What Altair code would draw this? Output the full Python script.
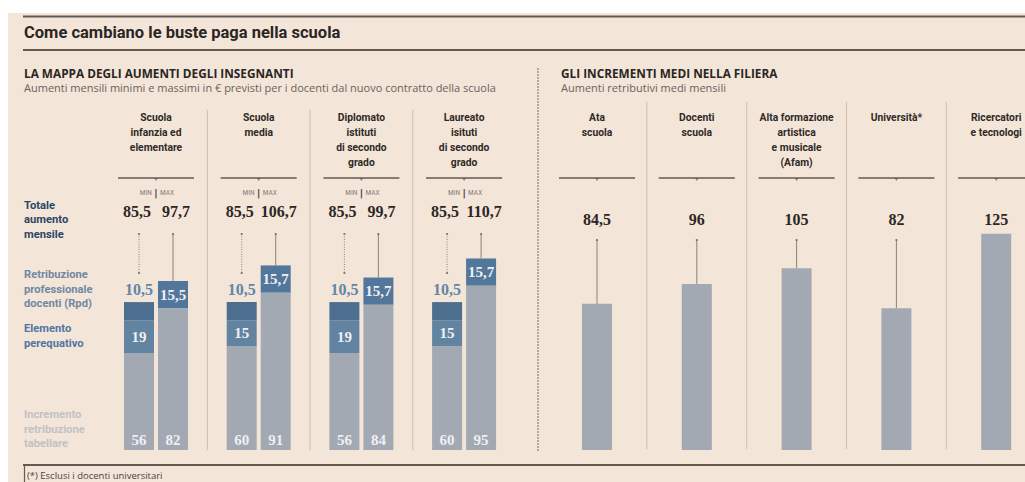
import altair as alt
import pandas as pd

# ---------------- data ----------------
TITLE = "Come cambiano le buste paga nella scuola"
LEFT_HEADING = "LA MAPPA DEGLI AUMENTI DEGLI INSEGNANTI"
LEFT_SUB = "Aumenti mensili minimi e massimi in € previsti per i docenti dal nuovo contratto della scuola"
RIGHT_HEADING = "GLI INCREMENTI MEDI NELLA FILIERA"
RIGHT_SUB = "Aumenti retributivi medi mensili"
FOOTNOTE = "(*) Esclusi i docenti universitari"

LEFT_GROUPS = [["Scuola", "infanzia ed", "elementare"],
               ["Scuola", "media"],
               ["Diplomato", "istituti", "di secondo", "grado"],
               ["Laureato", "isituti", "di secondo", "grado"]]
MIN_TAB = [56, 60, 56, 60]
MIN_PEREQ = [19, 15, 19, 15]
MIN_RPD = [10.5, 10.5, 10.5, 10.5]
MIN_TOT = [85.5, 85.5, 85.5, 85.5]
MAX_TAB = [82, 91, 84, 95]
MAX_RPD = [15.5, 15.7, 15.7, 15.7]
MAX_TOT = [97.7, 106.7, 99.7, 110.7]

RIGHT_GROUPS = [["Ata", "scuola"],
                ["Docenti", "scuola"],
                ["Alta formazione", "artistica", "e musicale", "(Afam)"],
                ["Università*"],
                ["Ricercatori", "e tecnologi"]]
RIGHT_VALS = [84.5, 96, 105, 82, 125]

ROW_TOTAL = ["Totale", "aumento", "mensile"]
ROW_RPD = ["Retribuzione", "professionale", "docenti (Rpd)"]
ROW_PEREQ = ["Elemento", "perequativo"]
ROW_TAB = ["Incremento", "retribuzione", "tabellare"]

# ---------------- layout / style ----------------
W, H = 1025, 482
BASE, PPU = 450, 1.73
LX0, LSTEP = 156, 102.7
RX0, RSTEP = 597, 99.8
BG = "#f3e5d8"
RULE = "#625a53"
SEP = "#cdbfb2"
COND = "Roboto Condensed, Liberation Sans Narrow, Roboto, sans-serif"
SANS = "Roboto, Open Sans, sans-serif"
WIDE = "Open Sans, Roboto, sans-serif"
SERIF = "Liberation Serif, DejaVu Serif, serif"
COL_TAB = "#a3a9b2"
COL_PEREQ = "#6384a1"
COL_RPD_MIN = "#4c6f8f"
COL_RPD_MAX = "#52779a"

XS = alt.Scale(domain=[0, W], nice=False, zero=False)
YS = alt.Scale(domain=[-(H - BASE) / PPU, BASE / PPU], nice=False, zero=False)


def vy(py):
    return (BASE - py) / PPU


def fmt(v):
    return f"{v:g}".replace(".", ",")


lc = [LX0 + i * LSTEP for i in range(len(LEFT_GROUPS))]
rc = [RX0 + i * RSTEP for i in range(len(RIGHT_GROUPS))]


def text_layer(rows, **kw):
    df = pd.DataFrame(rows)
    enc = dict(x=alt.X("x:Q", scale=XS, axis=None),
               y=alt.Y("y:Q", scale=YS, axis=None),
               text=alt.Text("t:N"))
    if "c" in df.columns:
        enc["color"] = alt.Color("c:N", scale=None, legend=None)
    return alt.Chart(df).mark_text(**kw).encode(**enc)


def rule_layer(rows, **kw):
    df = pd.DataFrame(rows)
    return alt.Chart(df).mark_rule(**kw).encode(
        x=alt.X("x:Q", scale=XS, axis=None), x2="x2:Q",
        y=alt.Y("y:Q", scale=YS, axis=None), y2="y2:Q")


layers = []

# background panel
layers.append(alt.Chart(pd.DataFrame([{"a": 1}])).mark_rect(color=BG).encode(
    x=alt.value(8), x2=alt.value(W), y=alt.value(13), y2=alt.value(H)))

# main rules
layers.append(rule_layer([
    dict(x=23, x2=W, y=vy(16.5), y2=vy(16.5)),
    dict(x=23, x2=W, y=vy(50), y2=vy(50)),
    dict(x=23, x2=W, y=vy(465), y2=vy(465)),
], color=RULE, strokeWidth=2.2))
layers.append(rule_layer([dict(x=24.5, x2=24.5, y=vy(466), y2=vy(H))], color=RULE, strokeWidth=1.2))

# dashed divider between panels
layers.append(rule_layer([dict(x=538, x2=538, y=vy(68), y2=vy(452))],
                         color="#8b8178", strokeWidth=1.2, strokeDash=[2, 1]))

# column separators
seps = [dict(x=(lc[i] + lc[i + 1]) / 2, x2=(lc[i] + lc[i + 1]) / 2, y=vy(110), y2=vy(450))
        for i in range(len(lc) - 1)]
seps += [dict(x=(rc[i] + rc[i + 1]) / 2, x2=(rc[i] + rc[i + 1]) / 2, y=vy(102), y2=vy(449))
         for i in range(len(rc) - 1)]
layers.append(rule_layer(seps, color=SEP, strokeWidth=1))

# braces under headers
braces = [dict(x=c - 38, x2=c + 38, y=vy(178), y2=vy(178)) for c in lc + rc]
layers.append(rule_layer(braces, color=RULE, strokeWidth=1.6))
layers.append(alt.Chart(pd.DataFrame([dict(x=c, y=vy(179.5)) for c in lc + rc])).mark_point(
    shape="triangle-down", filled=True, size=14, color=RULE).encode(
    x=alt.X("x:Q", scale=XS, axis=None), y=alt.Y("y:Q", scale=YS, axis=None)))

# ---------------- bars ----------------
bars = []
for i, c in enumerate(lc):
    a, b = c - 32, c - 2
    t1 = MIN_TAB[i]
    t2 = t1 + MIN_PEREQ[i]
    bars += [dict(x=a, x2=b, y=0, y2=t1, seg="tab"),
             dict(x=a, x2=b, y=t1, y2=t2, seg="pereq"),
             dict(x=a, x2=b, y=t2, y2=MIN_TOT[i], seg="rpd_min")]
    a, b = c + 2, c + 32
    bars += [dict(x=a, x2=b, y=0, y2=MAX_TAB[i], seg="tab"),
             dict(x=a, x2=b, y=MAX_TAB[i], y2=MAX_TOT[i], seg="rpd_max")]
for i, c in enumerate(rc):
    bars.append(dict(x=c - 15, x2=c + 15, y=0, y2=RIGHT_VALS[i], seg="tab"))

layers.append(alt.Chart(pd.DataFrame(bars)).mark_bar().encode(
    x=alt.X("x:Q", scale=XS, axis=None), x2="x2:Q",
    y=alt.Y("y:Q", scale=YS, axis=None), y2="y2:Q",
    color=alt.Color("seg:N", legend=None, scale=alt.Scale(
        domain=["tab", "pereq", "rpd_min", "rpd_max"],
        range=[COL_TAB, COL_PEREQ, COL_RPD_MIN, COL_RPD_MAX]))))

# leader lines
dotted, solid, dots = [], [], []
for i, c in enumerate(lc):
    dotted.append(dict(x=c - 17, x2=c - 17, y=vy(234), y2=vy(273)))
    solid.append(dict(x=c + 17, x2=c + 17, y=vy(234), y2=MAX_TOT[i]))
    dots += [dict(x=c - 17, y=vy(234)), dict(x=c + 17, y=vy(234)), dict(x=c - 17, y=vy(273))]
for i, c in enumerate(rc):
    if RIGHT_VALS[i] < vy(240):
        solid.append(dict(x=c, x2=c, y=vy(240), y2=RIGHT_VALS[i]))
        dots.append(dict(x=c, y=vy(240)))
layers.append(rule_layer(dotted, color="#8d8279", strokeWidth=1, strokeDash=[1, 1.5]))
layers.append(rule_layer(solid, color="#8d8279", strokeWidth=1))
layers.append(alt.Chart(pd.DataFrame(dots)).mark_circle(size=5, color="#7a6f66", opacity=1).encode(
    x=alt.X("x:Q", scale=XS, axis=None), y=alt.Y("y:Q", scale=YS, axis=None)))

# ---------------- texts ----------------
layers.append(text_layer([dict(x=24, y=vy(33), t=TITLE)], align="left", baseline="middle",
                         font=SANS, fontSize=16.5, fontWeight="bold", color="#2a2624"))
layers.append(text_layer([dict(x=24, y=vy(74), t=LEFT_HEADING), dict(x=561, y=vy(74), t=RIGHT_HEADING)],
                         align="left", baseline="middle", font=WIDE, fontSize=11.8,
                         fontWeight="bold", color="#2a2624"))
layers.append(text_layer([dict(x=24, y=vy(89), t=LEFT_SUB), dict(x=561, y=vy(89), t=RIGHT_SUB)],
                         align="left", baseline="middle", font=WIDE, fontSize=11, color="#6a625c"))

# column headers
hdr = []
for c, lines in zip(lc + rc, LEFT_GROUPS + RIGHT_GROUPS):
    for k, s in enumerate(lines):
        hdr.append(dict(x=c, y=vy(118 + 15 * k), t=s))
layers.append(text_layer(hdr, align="center", baseline="middle", font=SANS, fontSize=10.3,
                         fontWeight="bold", color="#2e2a27"))

# MIN | MAX
layers.append(text_layer([dict(x=c - 4, y=vy(193), t="MIN") for c in lc], align="right",
                         baseline="middle", font=COND, fontSize=7.5, color="#8a837d"))
layers.append(text_layer([dict(x=c + 4, y=vy(193), t="MAX") for c in lc], align="left",
                         baseline="middle", font=COND, fontSize=7.5, color="#8a837d"))
layers.append(text_layer([dict(x=c, y=vy(193.5), t="|") for c in lc], align="center",
                         baseline="middle", font=SANS, fontSize=11, fontWeight="bold", color="#2e2a27"))

# row labels on the left
rows = []
for lines, y0, col in [(ROW_TOTAL, 205.5, "#2b4565"), (ROW_RPD, 275, "#7089a3"),
                       (ROW_PEREQ, 329, "#4f76a0"), (ROW_TAB, 415, "#c2c2c4")]:
    for k, s in enumerate(lines):
        rows.append(dict(x=24, y=vy(y0 + 14.5 * k), t=s, c=col))
layers.append(text_layer(rows, align="left", baseline="middle", font=SANS, fontSize=11.2,
                         fontWeight="bold"))

# totals
tots = []
for i, c in enumerate(lc):
    tots += [dict(x=c - 19, y=vy(212), t=fmt(MIN_TOT[i])), dict(x=c + 20, y=vy(212), t=fmt(MAX_TOT[i]))]
for i, c in enumerate(rc):
    tots.append(dict(x=c, y=vy(220), t=fmt(RIGHT_VALS[i])))
layers.append(text_layer(tots, align="center", baseline="middle", font=SERIF, fontSize=16,
                         fontWeight="bold", color="#2b2725"))

# min Rpd labels above bars
layers.append(text_layer([dict(x=c - 17, y=MIN_TOT[i] + 7, t=fmt(MIN_RPD[i])) for i, c in enumerate(lc)],
                         align="center", baseline="middle", font=SERIF, fontSize=16,
                         fontWeight="bold", color="#6285a8"))

# labels inside bars
inb = []
for i, c in enumerate(lc):
    inb.append(dict(x=c - 17, y=vy(440), t=fmt(MIN_TAB[i])))
    inb.append(dict(x=c + 17, y=vy(440), t=fmt(MAX_TAB[i])))
    inb.append(dict(x=c - 17, y=MIN_TAB[i] + MIN_PEREQ[i] / 2, t=fmt(MIN_PEREQ[i])))
    inb.append(dict(x=c + 17, y=(MAX_TAB[i] + MAX_TOT[i]) / 2, t=fmt(MAX_RPD[i])))
layers.append(text_layer(inb, align="center", baseline="middle", font=SERIF, fontSize=15,
                         fontWeight="bold", color="#eef0f3"))

# footnote
layers.append(text_layer([dict(x=27, y=vy(476), t=FOOTNOTE)], align="left", baseline="middle",
                         font=WIDE, fontSize=9.5, color="#4a4440"))

chart = alt.layer(*layers).properties(
    width=W, height=H, padding=0, background="#ffffff",
    autosize=alt.AutoSizeParams(type="none"),
).configure_view(stroke=None)

chart.save("out.html", embed_options={"renderer": "svg", "actions": False})
